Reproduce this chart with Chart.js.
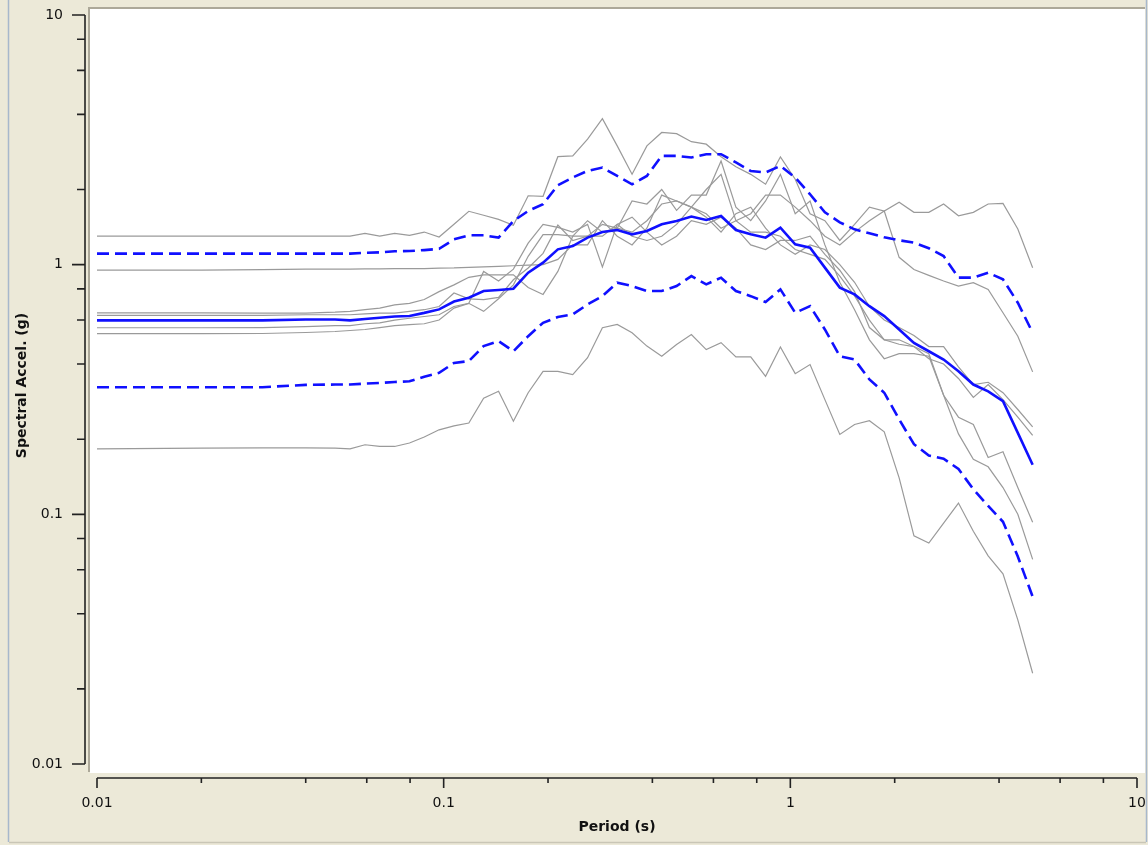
<!DOCTYPE html>
<html>
<head>
<meta charset="utf-8">
<title>Spectral Accel. vs Period</title>
<script src="https://cdn.jsdelivr.net/npm/chart.js@4.4.1/dist/chart.umd.min.js"></script>
<style>
  html, body { margin: 0; padding: 0; background: #ece9d8; }
  #spectra { display: block; }
</style>
</head>
<body>
<canvas id="spectra" width="1148" height="845"></canvas>
<script>
// periods (s)
const periods = [0.01, 0.02, 0.03, 0.04, 0.0486, 0.0537, 0.0593, 0.0654, 0.0722, 0.0797,
  0.0879, 0.097, 0.1071, 0.1182, 0.1304, 0.144, 0.1589, 0.1753, 0.1935, 0.2135,
  0.2357, 0.2601, 0.287, 0.3167, 0.3495, 0.3857, 0.4256, 0.4697, 0.5183, 0.572,
  0.6312, 0.6966, 0.7687, 0.8484, 0.9362, 1.033, 1.14, 1.258, 1.389, 1.532,
  1.691, 1.866, 2.06, 2.273, 2.509, 2.768, 3.055, 3.372, 3.721, 4.106,
  4.531, 5.0];

// individual records, spectral accel (g)
const rec1 = [1.302, 1.302, 1.302, 1.302, 1.302, 1.302, 1.335, 1.302, 1.335, 1.311,
  1.351, 1.290, 1.451, 1.636, 1.577, 1.519, 1.437, 1.888, 1.879, 2.707,
  2.727, 3.183, 3.845, 2.990, 2.302, 2.990, 3.384, 3.347, 3.109, 3.038,
  2.707, 2.468, 2.3, 2.1, 2.7, 2.2, 1.6, 1.5, 1.25, 1.45,
  1.70, 1.64, 1.78, 1.62, 1.62, 1.75, 1.57, 1.62, 1.75, 1.76,
  1.39, 0.972];
const rec2 = [0.951, 0.951, 0.955, 0.96, 0.96, 0.96, 0.962, 0.962, 0.965, 0.965,
  0.965, 0.968, 0.97, 0.975, 0.98, 0.985, 0.99, 0.995, 1.0, 1.05,
  1.2, 1.2, 1.5, 1.3, 1.2, 1.4, 1.9, 1.8, 1.7, 1.6,
  1.4, 1.5, 1.6, 1.9, 1.9, 1.7, 1.5, 1.3, 1.2, 1.35,
  1.5, 1.64, 1.07, 0.957, 0.906, 0.86, 0.82, 0.847, 0.796, 0.642,
  0.517, 0.372];
const rec3 = [0.641, 0.641, 0.64, 0.64, 0.645, 0.65, 0.66, 0.67, 0.69, 0.70,
  0.725, 0.78, 0.83, 0.89, 0.91, 0.91, 0.91, 0.81, 0.76, 0.94,
  1.3, 1.3, 1.45, 1.4, 1.35, 1.5, 1.75, 1.8, 1.7, 1.55,
  1.35, 1.6, 1.7, 1.4, 1.2, 1.1, 1.2, 1.15, 1.0, 0.85,
  0.68, 0.6, 0.56, 0.52, 0.47, 0.47, 0.39, 0.331, 0.338, 0.307,
  0.263, 0.224];
const rec4 = [0.626, 0.626, 0.626, 0.63, 0.63, 0.63, 0.635, 0.64, 0.64, 0.65,
  0.66, 0.68, 0.77, 0.73, 0.725, 0.74, 0.87, 0.97, 1.11, 1.44,
  1.25, 1.3, 1.3, 1.45, 1.3, 1.25, 1.3, 1.45, 1.7, 2.0,
  2.3, 1.5, 1.35, 1.35, 1.3, 1.15, 1.1, 1.05, 0.9, 0.75,
  0.6, 0.5, 0.48, 0.47, 0.42, 0.40, 0.35, 0.294, 0.331, 0.288,
  0.245, 0.207];
const rec5 = [0.559, 0.559, 0.56, 0.565, 0.57, 0.57, 0.58, 0.585, 0.6, 0.61,
  0.62, 0.63, 0.68, 0.70, 0.94, 0.86, 0.96, 1.22, 1.45, 1.41,
  1.35, 1.45, 0.98, 1.45, 1.55, 1.35, 1.2, 1.3, 1.5, 1.45,
  1.55, 1.4, 1.2, 1.15, 1.25, 1.25, 1.3, 1.1, 0.95, 0.78,
  0.56, 0.5, 0.5, 0.47, 0.44, 0.30, 0.245, 0.229, 0.169, 0.178,
  0.128, 0.093];
const rec6 = [0.529, 0.529, 0.53, 0.535, 0.54, 0.545, 0.55, 0.56, 0.57, 0.575,
  0.58, 0.6, 0.67, 0.70, 0.65, 0.73, 0.83, 1.08, 1.32, 1.32,
  1.3, 1.5, 1.35, 1.4, 1.8, 1.75, 2.0, 1.65, 1.9, 1.9,
  2.6, 1.7, 1.5, 1.8, 2.3, 1.6, 1.8, 1.2, 0.85, 0.66,
  0.5, 0.42, 0.44, 0.44, 0.43, 0.30, 0.21, 0.166, 0.155, 0.128,
  0.10, 0.066];
const rec7 = [0.183, 0.184, 0.1845, 0.1845, 0.184, 0.183, 0.190, 0.187, 0.187, 0.193,
  0.204, 0.218, 0.226, 0.232, 0.292, 0.311, 0.236, 0.307, 0.374, 0.374,
  0.363, 0.424, 0.559, 0.576, 0.534, 0.472, 0.430, 0.479, 0.525, 0.457,
  0.487, 0.427, 0.427, 0.357, 0.468, 0.366, 0.398, 0.288, 0.209, 0.229,
  0.237, 0.214, 0.140, 0.082, 0.0767, 0.0923, 0.111, 0.0855, 0.0682, 0.0578,
  0.0378, 0.0231];

// median and +/- one standard deviation
const median = [0.598, 0.598, 0.598, 0.603, 0.603, 0.598, 0.606, 0.613, 0.620, 0.623,
  0.641, 0.662, 0.712, 0.737, 0.784, 0.792, 0.801, 0.929, 1.019, 1.152,
  1.187, 1.283, 1.351, 1.377, 1.323, 1.364, 1.451, 1.496, 1.558, 1.510,
  1.567, 1.377, 1.323, 1.283, 1.407, 1.206, 1.170, 0.973, 0.809, 0.760,
  0.682, 0.622, 0.550, 0.486, 0.450, 0.417, 0.374, 0.331, 0.311, 0.284,
  0.212, 0.158];
const plusSigma = [1.107, 1.107, 1.107, 1.107, 1.107, 1.107, 1.115, 1.120, 1.131, 1.134,
  1.144, 1.157, 1.263, 1.311, 1.311, 1.283, 1.496, 1.641, 1.746, 2.080,
  2.234, 2.374, 2.449, 2.267, 2.099, 2.267, 2.727, 2.727, 2.687, 2.770,
  2.770, 2.566, 2.374, 2.339, 2.486, 2.234, 1.914, 1.621, 1.478, 1.385,
  1.335, 1.287, 1.252, 1.225, 1.163, 1.083, 0.887, 0.887, 0.929, 0.873,
  0.704, 0.534];
const minusSigma = [0.323, 0.323, 0.323, 0.330, 0.331, 0.331, 0.334, 0.336, 0.339, 0.341,
  0.356, 0.369, 0.404, 0.411, 0.472, 0.494, 0.450, 0.517, 0.585, 0.617,
  0.632, 0.693, 0.748, 0.847, 0.821, 0.784, 0.784, 0.821, 0.900, 0.834,
  0.887, 0.784, 0.748, 0.708, 0.796, 0.642, 0.682, 0.550, 0.430, 0.417,
  0.347, 0.307, 0.240, 0.191, 0.172, 0.167, 0.152, 0.126, 0.108, 0.0934,
  0.0678, 0.0468];

// axis ticks
const decadeTicks = [0.01, 0.1, 1, 10];
const decadeLabels = ["0.01", "0.1", "1", "10"];
const minorSteps = [2, 4, 6, 8];

const records = [rec1, rec2, rec3, rec4, rec5, rec6, rec7];

function toPoints(vals) {
  return periods.map((t, i) => ({ x: t, y: vals[i] }));
}

const BLUE = "#1010ff";
const GREY = "#9a9a9a";

const datasets = [
  { label: "Median", data: toPoints(median), borderColor: BLUE, borderWidth: 2.6, order: 0 },
  { label: "+1 sigma", data: toPoints(plusSigma), borderColor: BLUE, borderWidth: 2.6, borderDash: [12, 6], order: 0 },
  { label: "-1 sigma", data: toPoints(minusSigma), borderColor: BLUE, borderWidth: 2.6, borderDash: [12, 6], order: 0 },
];
records.forEach((r, i) => {
  datasets.push({ label: "Record " + (i + 1), data: toPoints(r), borderColor: GREY, borderWidth: 1.2, order: 1 });
});

const frameAndAxes = {
  id: "frame_and_axes",
  beforeDraw: (chart) => {
    const { ctx, chartArea } = chart;
    ctx.save();
    // window background
    ctx.fillStyle = "#ece9d8";
    ctx.fillRect(0, 0, chart.width, chart.height);
    ctx.strokeStyle = "#a7b8cc";
    ctx.lineWidth = 1.5;
    ctx.beginPath();
    ctx.moveTo(8.5, 0);
    ctx.lineTo(8.5, 842);
    ctx.moveTo(1146.5, 0);
    ctx.lineTo(1146.5, 842);
    ctx.stroke();
    ctx.strokeStyle = "#c9c6b6";
    ctx.beginPath();
    ctx.moveTo(9, 842.5);
    ctx.lineTo(1146, 842.5);
    ctx.stroke();

    // white plotting box
    const boxL = chartArea.left - 7;
    const boxR = chartArea.right + 8;
    const boxT = chartArea.top - 6;
    const boxB = chartArea.bottom + 9;
    ctx.fillStyle = "#ffffff";
    ctx.fillRect(boxL, boxT, boxR - boxL, boxB - boxT);
    ctx.strokeStyle = "#aca899";
    ctx.lineWidth = 2;
    ctx.beginPath();
    ctx.moveTo(boxL - 1, boxB - 1);
    ctx.lineTo(boxL - 1, boxT - 1);
    ctx.lineTo(boxR, boxT - 1);
    ctx.stroke();
    ctx.restore();
  },
  afterDraw: (chart) => {
    const { ctx, chartArea } = chart;
    const xs = chart.scales.x;
    const ys = chart.scales.y;
    ctx.save();
    ctx.strokeStyle = "#222222";
    ctx.fillStyle = "#111111";

    // y axis
    const ax = chartArea.left - 12;
    ctx.lineWidth = 1.6;
    ctx.beginPath();
    ctx.moveTo(ax, ys.getPixelForValue(10));
    ctx.lineTo(ax, ys.getPixelForValue(0.01));
    decadeTicks.forEach((d, i) => {
      const py = ys.getPixelForValue(d);
      ctx.moveTo(ax - 13, py);
      ctx.lineTo(ax, py);
      if (i < decadeTicks.length - 1) {
        minorSteps.forEach((m) => {
          const my = ys.getPixelForValue(d * m);
          ctx.moveTo(ax - 8, my);
          ctx.lineTo(ax, my);
        });
      }
    });
    ctx.stroke();

    // x axis
    const ay = chartArea.bottom + 14;
    ctx.beginPath();
    ctx.moveTo(xs.getPixelForValue(0.01), ay);
    ctx.lineTo(xs.getPixelForValue(10), ay);
    decadeTicks.forEach((d, i) => {
      const px = xs.getPixelForValue(d);
      ctx.moveTo(px, ay);
      ctx.lineTo(px, ay + 10);
      if (i < decadeTicks.length - 1) {
        minorSteps.forEach((m) => {
          const mx = xs.getPixelForValue(d * m);
          ctx.moveTo(mx, ay);
          ctx.lineTo(mx, ay + 5);
        });
      }
    });
    ctx.stroke();

    // tick labels
    ctx.font = '14px "DejaVu Sans"';
    ctx.textAlign = "right";
    ctx.textBaseline = "middle";
    decadeTicks.forEach((d, i) => {
      ctx.fillText(decadeLabels[i], ax - 22, ys.getPixelForValue(d));
    });
    ctx.textAlign = "center";
    ctx.textBaseline = "top";
    decadeTicks.forEach((d, i) => {
      ctx.fillText(decadeLabels[i], xs.getPixelForValue(d), ay + 18);
    });

    // axis titles
    ctx.font = 'bold 14px "DejaVu Sans"';
    ctx.textBaseline = "middle";
    ctx.fillText("Period (s)", (chartArea.left + chartArea.right) / 2, 827);
    ctx.translate(22, (chartArea.top + chartArea.bottom) / 2 - 4);
    ctx.rotate(-Math.PI / 2);
    ctx.fillText("Spectral Accel. (g)", 0, 0);
    ctx.restore();
  },
};

const spectraChart = new Chart(document.getElementById("spectra"), {
  type: "line",
  data: { datasets: datasets },
  options: {
    responsive: false,
    animation: false,
    devicePixelRatio: 1,
    layout: {
      padding: { left: 97, right: 11, top: 15, bottom: 81 },
    },
    elements: {
      point: { radius: 0, hoverRadius: 0 },
      line: { tension: 0, fill: false },
    },
    scales: {
      x: { type: "logarithmic", min: 0.01, max: 10, display: false },
      y: { type: "logarithmic", min: 0.01, max: 10, display: false },
    },
    plugins: {
      legend: { display: false },
      tooltip: { enabled: false },
    },
  },
  plugins: [frameAndAxes],
});
</script>
</body>
</html>
